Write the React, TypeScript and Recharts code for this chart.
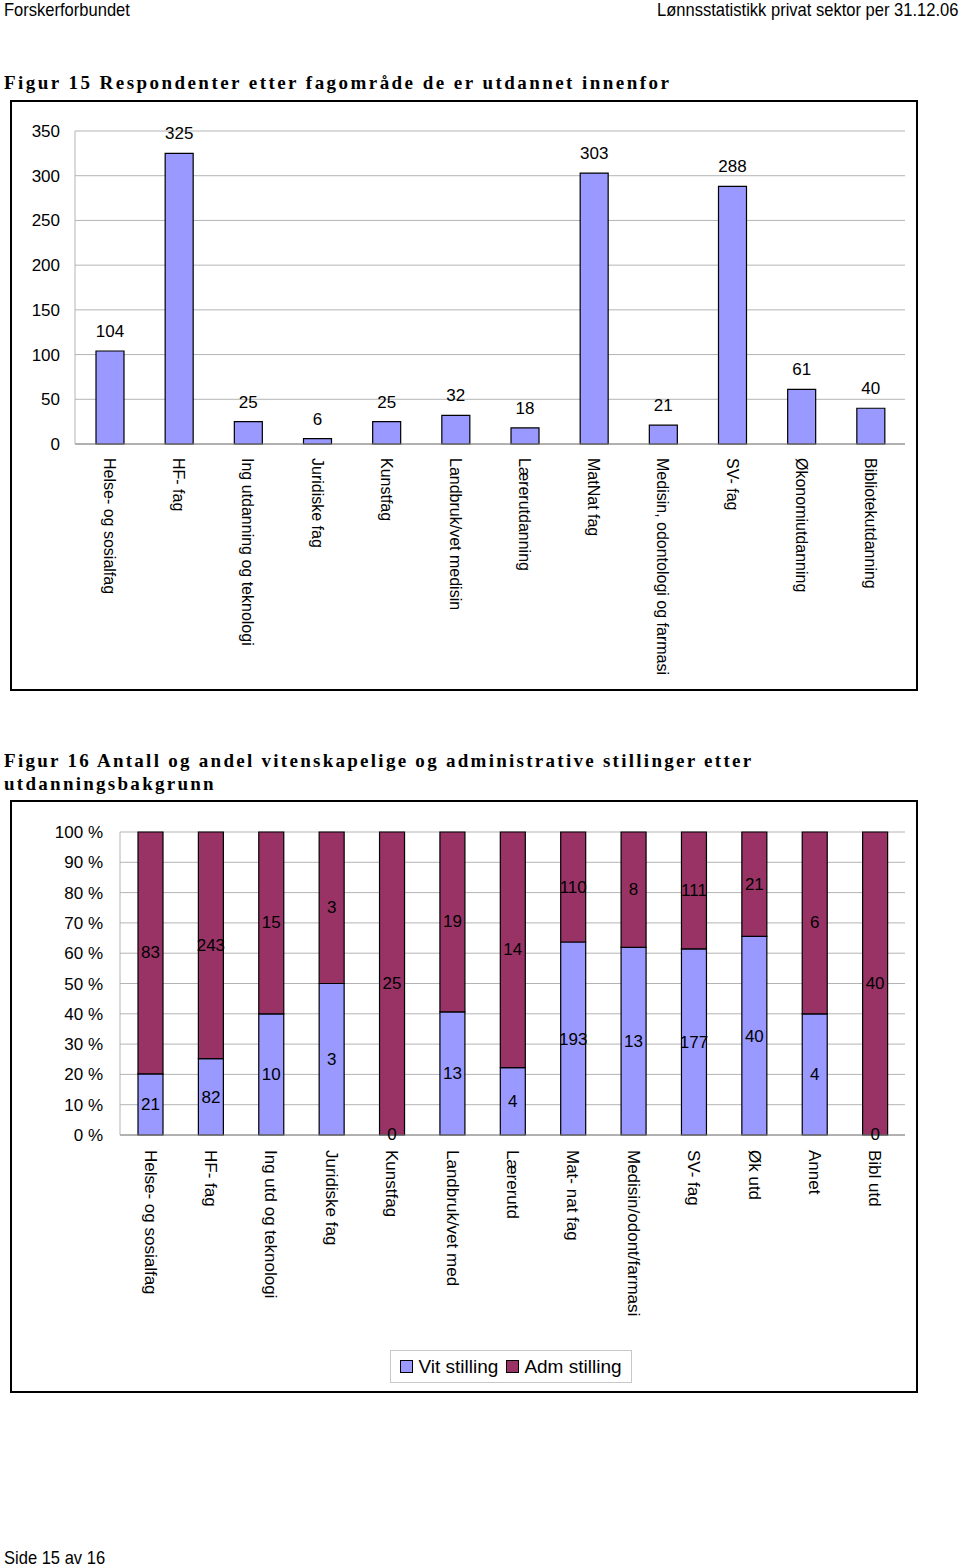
import React from 'react';
import { BarChart, Bar, XAxis, YAxis, CartesianGrid, LabelList, Legend } from 'recharts';

// Figur 15
const fagomrader = [
  'Helse- og sosialfag', 'HF- fag', 'Ing utdanning og teknologi', 'Juridiske fag', 'Kunstfag',
  'Landbruk/vet medisin', 'Lærerutdanning', 'MatNat fag', 'Medisin, odontologi og farmasi',
  'SV- fag', 'Økonomiutdanning', 'Bibliotekutdanning',
];
const respondenter = [104, 325, 25, 6, 25, 32, 18, 303, 21, 288, 61, 40];
const ticks15 = [0, 50, 100, 150, 200, 250, 300, 350];

// Figur 16
const bakgrunn = [
  'Helse- og sosialfag', 'HF- fag', 'Ing utd og teknologi', 'Juridiske fag', 'Kunstfag',
  'Landbruk/vet med', 'Lærerutd', 'Mat- nat fag', 'Medisin/odont/farmasi', 'SV- fag',
  'Øk utd', 'Annet', 'Bibl utd',
];
const vitStilling = [21, 82, 10, 3, 0, 13, 4, 193, 13, 177, 40, 4, 0];
const admStilling = [83, 243, 15, 3, 25, 19, 14, 110, 8, 111, 21, 6, 40];
const ticks16 = [0, 0.1, 0.2, 0.3, 0.4, 0.5, 0.6, 0.7, 0.8, 0.9, 1];

const data15 = fagomrader.map((navn, i) => ({ navn, antall: respondenter[i] }));
const data16 = bakgrunn.map((navn, i) => ({ navn, vit: vitStilling[i], adm: admStilling[i] }));

const ARIAL = "'Liberation Sans', Arial, sans-serif";
const SERIF = "'Liberation Serif', 'Times New Roman', serif";
const BLUE = '#9999ff';
const PURPLE = '#993366';
const GRID = '#b4b4b4';

const RotatedTick = (size: number) => (props: any) => {
  const { x, y, payload } = props;
  return (
    <text
      transform={`translate(${x},${y}) rotate(90)`}
      textAnchor="start"
      dominantBaseline="central"
      fontSize={size}
      fontFamily={ARIAL}
      fill="#000"
    >
      {payload.value}
    </text>
  );
};

// Adm-etiketten, pluss "0" ved bunnen der vit-andelen er null (den segmentet tegnes ikke)
const AdmLabel = (props: any) => {
  const { x, y, width, height, value, index } = props;
  const cx = x + width / 2;
  return (
    <g>
      <text x={cx} y={y + height / 2} textAnchor="middle" dominantBaseline="central" fontSize={17} fontFamily={ARIAL} fill="#000">
        {value}
      </text>
      {vitStilling[index] === 0 && (
        <text x={cx} y={y + height - 1} textAnchor="middle" dominantBaseline="central" fontSize={17} fontFamily={ARIAL} fill="#000">
          {vitStilling[index]}
        </text>
      )}
    </g>
  );
};

const LegendBox = () => (
  <div
    style={{
      border: '1px solid #c8c8c8',
      height: 33,
      boxSizing: 'border-box',
      display: 'flex',
      alignItems: 'center',
      justifyContent: 'center',
      gap: 8,
      fontFamily: ARIAL,
      fontSize: 19,
      color: '#000',
      background: '#fff',
    }}
  >
    {[
      { name: 'Vit stilling', color: BLUE },
      { name: 'Adm stilling', color: PURPLE },
    ].map((item) => (
      <span key={item.name} style={{ display: 'flex', alignItems: 'center', gap: 5 }}>
        <span style={{ width: 11, height: 11, background: item.color, border: '1px solid #000' }} />
        {item.name}
      </span>
    ))}
  </div>
);

const headerStyle: React.CSSProperties = {
  position: 'absolute',
  fontFamily: ARIAL,
  fontSize: 19,
  color: '#000',
  lineHeight: '20px',
  whiteSpace: 'nowrap',
  transform: 'scaleX(0.87)',
};

const titleStyle: React.CSSProperties = {
  position: 'absolute',
  left: 4,
  fontFamily: SERIF,
  fontWeight: 'bold',
  fontSize: 19,
  letterSpacing: 2.45,
  lineHeight: '23px',
  color: '#000',
  whiteSpace: 'nowrap',
};

const boxStyle: React.CSSProperties = {
  position: 'absolute',
  left: 10,
  width: 908,
  border: '2px solid #000',
  boxSizing: 'border-box',
  pointerEvents: 'none',
};

export default function App() {
  return (
    <div style={{ position: 'absolute', left: 0, top: 0, width: 960, height: 1567, background: '#fff', overflow: 'hidden' }}>
      <div style={{ ...headerStyle, left: 4, top: 0, transformOrigin: 'left center' }}>Forskerforbundet</div>
      <div style={{ ...headerStyle, right: 2, top: 0, transformOrigin: 'right center' }}>
        Lønnsstatistikk privat sektor per 31.12.06
      </div>

      <div style={{ ...titleStyle, top: 71 }}>Figur 15 Respondenter etter fagområde de er utdannet innenfor</div>

      <div style={{ position: 'absolute', left: 0, top: 100 }}>
        <BarChart
          width={960}
          height={590}
          data={data15}
          margin={{ top: 31, right: 55, bottom: 0, left: 15 }}
          barSize={28}
        >
          <CartesianGrid vertical={false} stroke={GRID} />
          <XAxis
            dataKey="navn"
            interval={0}
            height={246}
            tickLine={false}
            tickMargin={8}
            axisLine={{ stroke: '#888' }}
            tick={RotatedTick(16)}
          />
          <YAxis
            domain={[0, 350]}
            ticks={ticks15}
            width={60}
            tickLine={false}
            tickMargin={9}
            axisLine={{ stroke: GRID }}
            tick={{ fontSize: 17, fontFamily: ARIAL, fill: '#000' }}
          />
          <YAxis yAxisId="kant" orientation="right" width={0} tick={false} tickLine={false} axisLine={{ stroke: GRID }} />
          <Bar dataKey="antall" fill={BLUE} stroke="#000" strokeWidth={1.2} isAnimationActive={false}>
            <LabelList dataKey="antall" position="top" offset={14} fontSize={17} fontFamily={ARIAL} fill="#000" />
          </Bar>
        </BarChart>
      </div>
      <div style={{ ...boxStyle, top: 100, height: 591 }} />

      <div style={{ ...titleStyle, top: 749, letterSpacing: 2.27 }}>
        Figur 16 Antall og andel vitenskapelige og administrative stillinger etter
        <br />
        utdanningsbakgrunn
      </div>

      <div style={{ position: 'absolute', left: 0, top: 800 }}>
        <BarChart
          width={960}
          height={592}
          data={data16}
          stackOffset="expand"
          margin={{ top: 32, right: 55, bottom: 7, left: 40 }}
          barSize={25}
        >
          <CartesianGrid vertical={false} stroke={GRID} />
          <XAxis
            dataKey="navn"
            interval={0}
            height={215}
            tickLine={false}
            tickMargin={9}
            axisLine={{ stroke: '#888' }}
            tick={RotatedTick(17)}
          />
          <YAxis
            domain={[0, 1]}
            ticks={ticks16}
            width={80}
            tickLine={false}
            tickMargin={11}
            axisLine={{ stroke: GRID }}
            tickFormatter={(v: number) => `${Math.round(v * 100)} %`}
            tick={{ fontSize: 17, fontFamily: ARIAL, fill: '#000' }}
          />
          <YAxis yAxisId="kant" orientation="right" width={0} tick={false} tickLine={false} axisLine={{ stroke: GRID }} />
          <Legend
            verticalAlign="bottom"
            content={<LegendBox />}
            wrapperStyle={{ left: 390, width: 242, height: 35 }}
          />
          <Bar dataKey="vit" name="Vit stilling" stackId="a" fill={BLUE} stroke="#000" strokeWidth={1.2} isAnimationActive={false}>
            <LabelList dataKey="vit" position="center" fontSize={17} fontFamily={ARIAL} fill="#000" />
          </Bar>
          <Bar dataKey="adm" name="Adm stilling" stackId="a" fill={PURPLE} stroke="#000" strokeWidth={1.2} isAnimationActive={false}>
            <LabelList dataKey="adm" content={<AdmLabel />} />
          </Bar>
        </BarChart>
      </div>
      <div style={{ ...boxStyle, top: 800, height: 593 }} />

      <div style={{ ...headerStyle, left: 4, top: 1548, transformOrigin: 'left center' }}>Side 15 av 16</div>
    </div>
  );
}
